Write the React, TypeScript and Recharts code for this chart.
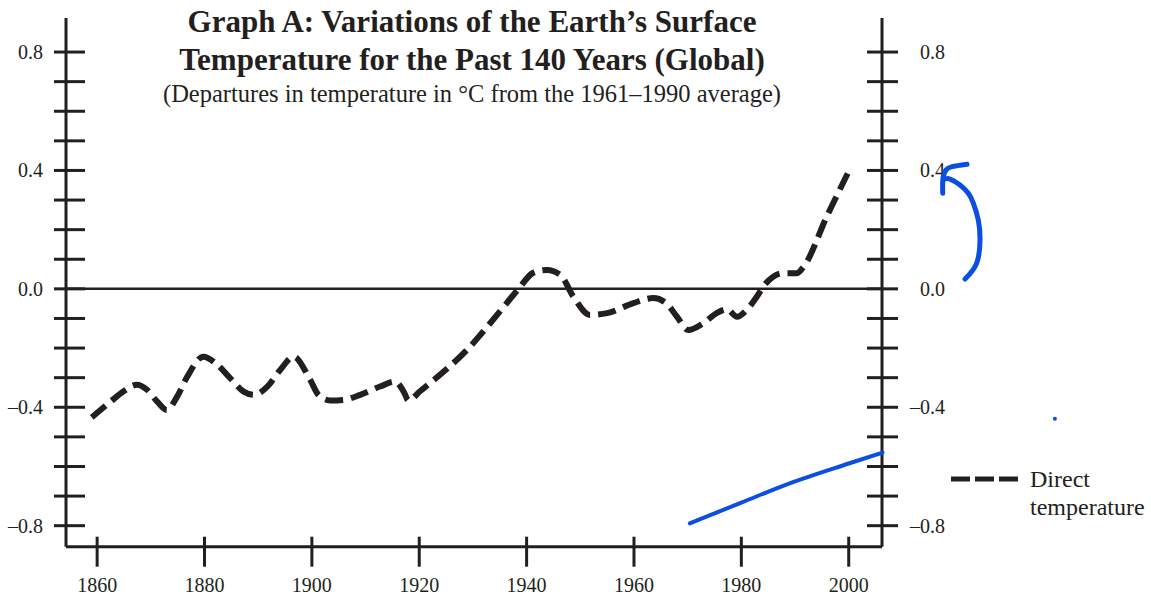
import React from 'react';
import { LineChart, Line, XAxis, YAxis, ReferenceLine, ReferenceDot } from 'recharts';

// ---- Data ----
const years = [1859, 1862.5, 1865, 1867.4, 1869.3, 1871.2, 1873, 1874.9, 1876.8, 1879.8, 1882.3, 1884.8, 1887.3, 1889.2, 1891.7, 1894.1, 1896.6, 1899.7, 1901.3, 1903.4, 1905.9, 1909, 1912.7, 1915.5, 1917.1, 1918, 1920.2, 1922.7, 1928.9, 1934.5, 1938.5, 1941.2, 1943.8, 1946.3, 1948.7, 1951.8, 1955, 1959.9, 1963.6, 1966.1, 1968, 1970.1, 1972.9, 1975.4, 1977.3, 1979.2, 1981, 1982.9, 1984.1, 1986, 1987.8, 1990.3, 1991.6, 1995.9, 2000.3];
const temps = [-0.434, -0.381, -0.345, -0.324, -0.341, -0.381, -0.409, -0.364, -0.296, -0.229, -0.255, -0.302, -0.347, -0.358, -0.33, -0.274, -0.229, -0.308, -0.36, -0.377, -0.375, -0.358, -0.33, -0.313, -0.347, -0.377, -0.345, -0.308, -0.206, -0.088, 0, 0.054, 0.064, 0.047, -0.026, -0.088, -0.082, -0.048, -0.031, -0.05, -0.094, -0.139, -0.116, -0.082, -0.069, -0.094, -0.071, -0.026, 0.008, 0.042, 0.053, 0.053, 0.075, 0.244, 0.408];

// hand-drawn blue annotations (in year / °C coordinates)
const penLineYears = [1970.4, 1980, 1989, 2000, 2006.3];
const penLineValues = [-0.792, -0.722, -0.657, -0.59, -0.553];
const arrowShaftYears = [2021.67, 2023.84, 2024.46, 2024.14, 2023.21, 2022.28, 2020.73, 2018.87, 2017.94];
const arrowShaftValues = [0.033, 0.087, 0.166, 0.233, 0.29, 0.323, 0.351, 0.371, 0.371];
const arrowHeadYears = [2017.51, 2017.57, 2018.13, 2019.24, 2022.04];
const arrowHeadValues = [0.323, 0.375, 0.402, 0.413, 0.421];
const penDot = { year: 2038.4, value: -0.439 };

const yTicks = [-0.8, -0.7, -0.6, -0.5, -0.4, -0.3, -0.2, -0.1, 0, 0.1, 0.2, 0.3, 0.4, 0.5, 0.6, 0.7, 0.8];
const yLabelTicks = [-0.8, -0.4, 0, 0.4, 0.8];
const xTicks = [1860, 1880, 1900, 1920, 1940, 1960, 1980, 2000];

const titleLines = ['Graph A: Variations of the Earth\u2019s Surface', 'Temperature for the Past 140 Years (Global)'];
const subtitle = '(Departures in temperature in \u00b0C from the 1961\u20131990 average)';
const legendLabel = ['Direct', 'temperature'];

// ---- Layout / style ----
const W = 1151;
const H = 595;
const INK = '#231f20';
const BLUE = '#0b4fe0';
const FONT = '"Liberation Serif", "Times New Roman", serif';
const X_DOMAIN: [number, number] = [1854.2, 2006.2];
const Y_DOMAIN: [number, number] = [-0.871, 0.915];
const PLOT_LEFT = 66;
const PLOT_RIGHT = 882;
const PLOT_TOP = 18;
const PLOT_BOTTOM = 546.7;

const series = years.map((y, i) => ({ year: y, temp: temps[i] }));
const penLine = penLineYears.map((y, i) => ({ year: y, v: penLineValues[i] }));
const arrowShaft = arrowShaftYears.map((y, i) => ({ year: y, v: arrowShaftValues[i] }));
const arrowHead = arrowHeadYears.map((y, i) => ({ year: y, v: arrowHeadValues[i] }));

const fmt = (v: number) => {
  const r = Math.round(v * 10) / 10;
  if (Math.abs(r) < 1e-9) return '0.0';
  return (r < 0 ? '\u2013' : '') + Math.abs(r).toFixed(1);
};
const isLabelled = (v: number) => yLabelTicks.some((t) => Math.abs(t - v) < 1e-6);

const LeftTick = (props: any) => {
  const { x, y, payload } = props;
  const v = payload.value;
  return (
    <g>
      <line x1={x - 12} x2={x + 19} y1={y} y2={y} stroke={INK} strokeWidth={3} />
      {isLabelled(v) && (
        <text x={x - 23} y={y + 7} textAnchor="end" fontFamily={FONT} fontSize={20} fill={INK}>
          {fmt(v)}
        </text>
      )}
    </g>
  );
};

const RightTick = (props: any) => {
  const { x, y, payload } = props;
  const v = payload.value;
  return (
    <g>
      <line x1={x - 15} x2={x + 16} y1={y} y2={y} stroke={INK} strokeWidth={3} />
      {isLabelled(v) && (
        <text x={x + 63} y={y + 7} textAnchor="end" fontFamily={FONT} fontSize={20} fill={INK}>
          {fmt(v)}
        </text>
      )}
    </g>
  );
};

const BottomTick = (props: any) => {
  const { x, y, payload } = props;
  return (
    <g>
      <line x1={x} x2={x} y1={y - 10} y2={y + 20} stroke={INK} strokeWidth={3} />
      <text x={x} y={y + 45} textAnchor="middle" fontFamily={FONT} fontSize={20} fill={INK}>
        {payload.value}
      </text>
    </g>
  );
};

// overlay x-domain continues the same year scale across the full width
const X2_MAX = X_DOMAIN[0] + ((W - PLOT_LEFT) * (X_DOMAIN[1] - X_DOMAIN[0])) / (PLOT_RIGHT - PLOT_LEFT);

export default function App() {
  return (
    <div style={{ position: 'absolute', left: 0, top: 0, width: W, height: H, background: '#fff' }}>
      <div style={{ position: 'absolute', left: 0, top: 0 }}>
        <LineChart
          width={W}
          height={H}
          data={series}
          margin={{ top: PLOT_TOP, right: 0, bottom: 0, left: 0 }}
        >
          <XAxis
            dataKey="year"
            type="number"
            domain={X_DOMAIN}
            ticks={xTicks}
            interval={0}
            height={H - PLOT_BOTTOM}
            tickSize={0}
            tickMargin={0}
            tickLine={false}
            axisLine={{ stroke: INK, strokeWidth: 3 }}
            tick={<BottomTick />}
            allowDataOverflow
          />
          <YAxis
            yAxisId="left"
            type="number"
            domain={Y_DOMAIN}
            ticks={yTicks}
            interval={0}
            width={PLOT_LEFT}
            tickSize={0}
            tickMargin={0}
            tickLine={false}
            axisLine={{ stroke: INK, strokeWidth: 3 }}
            tick={<LeftTick />}
            allowDataOverflow
          />
          <YAxis
            yAxisId="right"
            orientation="right"
            type="number"
            domain={Y_DOMAIN}
            ticks={yTicks}
            interval={0}
            width={W - PLOT_RIGHT}
            tickSize={0}
            tickMargin={0}
            tickLine={false}
            axisLine={{ stroke: INK, strokeWidth: 3 }}
            tick={<RightTick />}
            allowDataOverflow
          />
          <ReferenceLine yAxisId="left" y={0} stroke={INK} strokeWidth={2.5} />
          <Line
            yAxisId="left"
            type="monotone"
            dataKey="temp"
            stroke={INK}
            strokeWidth={6}
            strokeDasharray="18 8"
            dot={false}
            activeDot={false}
            isAnimationActive={false}
          />
        </LineChart>
      </div>
      <div style={{ position: 'absolute', left: 0, top: 0, pointerEvents: 'none' }}>
        <LineChart
          width={W}
          height={H}
          margin={{ top: PLOT_TOP, right: 0, bottom: H - PLOT_BOTTOM, left: PLOT_LEFT }}
        >
          <XAxis dataKey="year" type="number" domain={[X_DOMAIN[0], X2_MAX]} hide allowDataOverflow />
          <YAxis type="number" domain={Y_DOMAIN} hide allowDataOverflow />
          <Line data={penLine} type="monotone" dataKey="v" stroke={BLUE} strokeWidth={4} strokeLinecap="round" dot={false} activeDot={false} isAnimationActive={false} />
          <Line data={arrowShaft} type="natural" dataKey="v" stroke={BLUE} strokeWidth={5} strokeLinecap="round" strokeLinejoin="round" dot={false} activeDot={false} isAnimationActive={false} />
          <Line data={arrowHead} type="natural" dataKey="v" stroke={BLUE} strokeWidth={5} strokeLinecap="round" strokeLinejoin="round" dot={false} activeDot={false} isAnimationActive={false} />
          <ReferenceDot x={penDot.year} y={penDot.value} r={2} fill={BLUE} stroke="none" />
        </LineChart>
      </div>
      <svg width={W} height={H} style={{ position: 'absolute', left: 0, top: 0, pointerEvents: 'none' }}>
        <text x={472} y={32} textAnchor="middle" fontFamily={FONT} fontWeight="bold" fontSize={31} fill={INK}>
          {titleLines[0]}
        </text>
        <text x={472} y={70} textAnchor="middle" fontFamily={FONT} fontWeight="bold" fontSize={31} fill={INK}>
          {titleLines[1]}
        </text>
        <text x={472} y={102} textAnchor="middle" fontFamily={FONT} fontSize={24.5} fill={INK}>
          {subtitle}
        </text>
        <line x1={951} x2={1018} y1={479} y2={479} stroke={INK} strokeWidth={5} strokeDasharray="19 5" />
        <text x={1030} y={487} fontFamily={FONT} fontSize={24} fill={INK}>
          {legendLabel[0]}
        </text>
        <text x={1030} y={515} fontFamily={FONT} fontSize={24} fill={INK}>
          {legendLabel[1]}
        </text>
      </svg>
    </div>
  );
}
